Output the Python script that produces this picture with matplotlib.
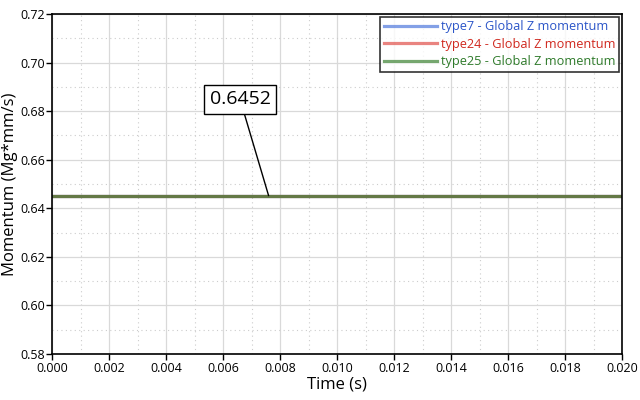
import matplotlib
matplotlib.use("Agg")
import matplotlib.pyplot as plt
from matplotlib.ticker import MultipleLocator, FormatStrFormatter

plt.rcParams['font.family'] = ['Open Sans', 'DejaVu Sans']

time = [0.0, 0.02]
type7 = [0.6452, 0.6452]
type24 = [0.6452, 0.6452]
type25 = [0.6452, 0.6452]
labels = ["type7 - Global Z momentum", "type24 - Global Z momentum", "type25 - Global Z momentum"]
line_colors = ["#4f78dc", "#e0504a", "#3c8232"]
text_colors = ["#2b55c8", "#d0281e", "#2e7a2a"]
annot_value = 0.6452
annot_x = 0.0076

fig = plt.figure(figsize=(6.4, 4.0), dpi=100)
ax = fig.add_axes([52/640, 1-354/400, 570/640, 340/400])

for y, c, l in zip([type7, type24, type25], line_colors, labels):
    ax.plot(time, y, color=c, lw=2.3, label=l, alpha=0.7)

ax.set_xlim(0, 0.02)
ax.set_ylim(0.58, 0.72)
ax.xaxis.set_major_locator(MultipleLocator(0.002))
ax.xaxis.set_minor_locator(MultipleLocator(0.001))
ax.yaxis.set_major_locator(MultipleLocator(0.02))
ax.yaxis.set_minor_locator(MultipleLocator(0.01))
ax.xaxis.set_major_formatter(FormatStrFormatter('%.3f'))
ax.yaxis.set_major_formatter(FormatStrFormatter('%.2f'))
ax.grid(which='major', color='#d9d9d9', lw=0.9)
ax.grid(which='minor', color='#cccccc', lw=0.8, ls=(0, (1, 3)))
ax.set_axisbelow(True)
ax.tick_params(which='major', labelsize=9, length=4, width=1, color='black')
ax.tick_params(axis='x', pad=1.5)
ax.tick_params(axis='y', pad=1)
ax.tick_params(which='minor', length=0)
for s in ax.spines.values():
    s.set_color('black'); s.set_linewidth(1.2)
ax.set_xlabel("Time (s)", fontsize=12, labelpad=1.5)
ax.set_ylabel("Momentum (Mg*mm/s)", fontsize=12, labelpad=1.5)

leg = ax.legend(loc='upper right', fontsize=9.2, frameon=True, fancybox=False,
                edgecolor='black', borderaxespad=0.2, handlelength=4.2,
                labelspacing=0.35, borderpad=0.3, handletextpad=0.3)
leg.get_frame().set_linewidth(1.2)
for t, c in zip(leg.get_texts(), text_colors):
    t.set_color(c)

ax.annotate(f"{annot_value:.4f}", xy=(annot_x, annot_value), xytext=(0.0066, 0.6848),
            fontsize=14, ha='center', va='center',
            bbox=dict(boxstyle='square,pad=0.3', fc='white', ec='black', lw=1),
            arrowprops=dict(arrowstyle='-', color='black', lw=1, shrinkA=0, shrinkB=0))

fig.savefig("out.png", dpi=100)
